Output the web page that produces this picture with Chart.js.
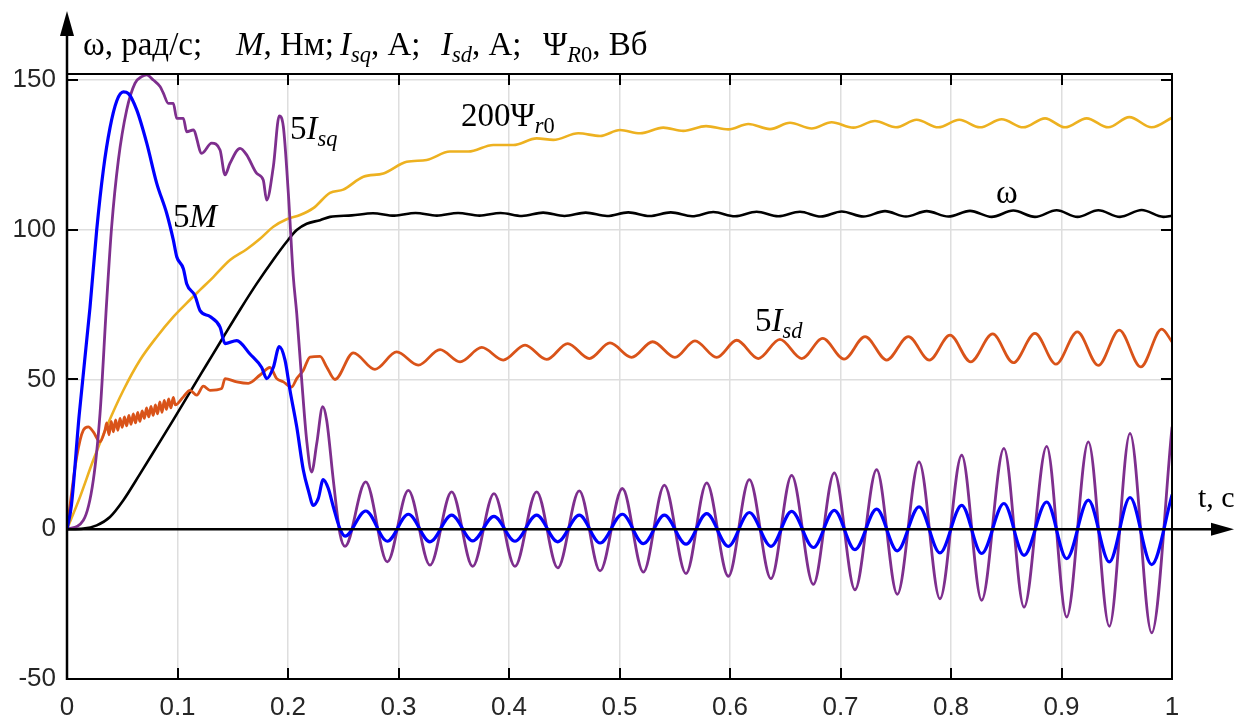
<!DOCTYPE html>
<html><head><meta charset="utf-8">
<script src="https://cdn.jsdelivr.net/npm/chart.js@4"></script>
<style>html,body{margin:0;padding:0;background:#fff;overflow:hidden}</style>
</head><body>
<canvas id="c" width="1244" height="722" style="width:1244px;height:722px"></canvas>
<script>
// ---- tick values ----
const xTicks = [0, 0.1, 0.2, 0.3, 0.4, 0.5, 0.6, 0.7, 0.8, 0.9, 1];
const yTicks = [-50, 0, 50, 100, 150];

// ---- 5M (blue) ----
const tM = [0,0.004,0.011,0.0208,0.0269,0.0329,0.0389,0.045,0.051,0.0555,0.0631,0.0721,0.0812,0.0902,0.0962,0.0993,0.1053,0.1083,0.1158,0.1204,0.1294,0.1385,0.143,0.1536,0.1656,0.1762,0.1807,0.1867,0.1921,0.1973,0.2018,0.2079,0.2139,0.2184,0.2229,0.2274,0.2319,0.2365,0.241,0.247,0.2516,
  0.2703,0.2899,0.3089,0.3285,0.3481,0.3671,0.3864,0.4054,0.4250,0.4441,0.4636,0.4824,0.5026,0.5216,0.5406,0.5602,0.5789,0.5985,0.6175,0.6371,0.6558,0.6754,0.6944,0.7131,0.7327,0.7514,0.7711,0.7900,0.8097,0.8277,0.8479,0.8661,0.8866,0.9047,0.9243,0.9433,0.9620,0.9816,1.0];
const vM = [0,8,38,74,100,120,134,143,146,145.5,140,129,115.5,105.5,96.6,91,87,82,78,73,71,67.5,62,63,58.5,54,50.3,54,61,56.5,46.4,34.2,19.7,13,8,10.3,16.6,13.6,7.5,0.2,-2.3,
  6.1,-4.0,5.0,-4.2,4.7,-3.9,4.3,-4.0,4.7,-4.2,4.7,-4.6,5.0,-4.8,4.7,-5.0,5.2,-5.7,5.6,-5.7,6.0,-6.1,6.3,-6.8,6.7,-7.2,7.5,-7.9,8.0,-8.1,8.6,-8.7,9.1,-9.8,9.7,-10.9,10.6,-11.8,11.4];

// ---- 5Isq (purple) ----
const tIsq = [0,0.0148,0.0238,0.0299,0.0359,0.0404,0.0465,0.054,0.0615,0.0676,0.0721,0.0781,0.0842,0.0872,0.0917,0.0962,0.0993,0.1053,0.1083,0.1143,0.1219,0.1309,0.1385,0.143,0.1475,0.1566,0.1626,0.1717,0.1776,0.1807,0.1867,0.1921,0.1958,0.2003,0.2048,0.2079,0.2124,0.2169,0.2214,0.226,0.2314,0.235,0.241,0.247,0.2516,
  0.2703,0.2899,0.3089,0.3285,0.3481,0.3671,0.3864,0.4054,0.4250,0.4441,0.4636,0.4824,0.5026,0.5216,0.5406,0.5602,0.5789,0.5985,0.6175,0.6371,0.6558,0.6754,0.6944,0.7131,0.7327,0.7514,0.7711,0.7900,0.8097,0.8277,0.8479,0.8661,0.8866,0.9047,0.9243,0.9433,0.9620,0.9816,1.0];
const vIsq = [0,3,16.4,38.7,76,101,123.3,140,148.9,151.1,151.7,150,147.8,145.6,142.2,142.2,137.2,137.2,132.7,133.3,125.5,128.9,126.6,118.3,122.2,127.2,125,118.8,116.6,109.9,121,138,134.4,112.2,84.3,72.1,49.8,29.7,19.1,28.6,40.9,36.4,16.4,-1.4,-5.7,
  15.8,-10.9,13.0,-12.0,12.5,-12.4,11.9,-12.4,12.5,-12.9,12.8,-13.9,13.6,-14.3,14.7,-14.8,15.5,-15.7,16.6,-16.5,18.0,-18.4,18.8,-20.2,19.9,-21.7,22.5,-23.2,24.7,-23.7,27.0,-26.0,27.7,-29.3,29.2,-32.4,32.0,-34.6,34];

// ---- 5Isd (orange) ----
const tIsd = [0,0.0088,0.0148,0.0193,0.0238,0.0299,0.0344,0.036,0.038,0.040,0.042,0.044,0.046,0.048,0.050,0.052,0.054,0.056,0.058,0.060,0.062,0.064,0.066,0.068,0.070,0.072,0.074,0.076,0.078,0.080,0.082,0.084,0.086,0.088,0.090,0.092,0.094,0.0962,0.098,0.1053,0.1113,0.1174,0.1234,0.1294,0.14,0.143,0.1536,0.1641,0.1747,0.1837,0.1898,0.1958,0.2033,0.2079,0.2139,0.2199,0.229,0.235,0.2425,
  0.2591,0.2787,0.2984,0.3179,0.3376,0.3557,0.3753,0.3948,0.4145,0.4341,0.4531,0.4727,0.4914,0.511,0.53,0.5502,0.5683,0.588,0.6061,0.6256,0.6452,0.6649,0.6839,0.7032,0.7222,0.7418,0.7614,0.7804,0.7991,0.8178,0.8377,0.8564,0.876,0.895,0.9143,0.9333,0.9523,0.9717,0.9907,1.0];
const vIsd = [0,24.2,33.1,34.2,32.5,29.2,33.1,35.5,31.5,36,32.5,36.5,33,37,34,37.5,34.5,38,35,38.5,35.5,39,36,39.5,37,40.5,37.5,41,38,41.5,38.5,42.5,39,43,40,43.5,40.5,44,41.5,44.2,46.4,44.8,47.8,46.4,47,50.3,49.2,48.7,51.5,54,50.3,49.2,47.5,50.3,53.1,57.5,57.7,54.2,50,
  58.9,53.4,59.2,54.8,60,55.9,60.7,56.5,61.5,56.7,62,57,62.2,57.4,62.6,57.4,62.9,57.4,63.1,57,63.4,57,63.7,56.8,64.3,56.5,64.3,56.5,64.8,55.9,65.2,55.6,65.4,55.1,65.9,54.7,66.5,54.2,66.8,62.6];

// ---- omega (black) ----
const tW = [0,0.0148,0.0269,0.0389,0.051,0.0661,0.0812,0.0962,0.1113,0.1264,0.1415,0.1566,0.1717,0.1867,0.1988,0.2079,0.2169,0.229,0.238,0.2577,
  0.2769,0.2962,0.3154,0.3347,0.3539,0.3732,0.3924,0.4117,0.4309,0.4502,0.4694,0.4887,0.5079,0.5272,0.5464,0.5657,0.5849,0.6045,0.6241,0.6437,0.6633,0.6822,0.7011,0.7207,0.7403,0.7592,0.778,0.7976,0.8172,0.8368,0.8564,0.876,0.8956,0.9145,0.9333,0.9529,0.9726,0.9921,1.0];
const vW = [0,0.2,1.3,4.1,9.7,18.5,27.5,36.5,45.8,55,64.2,73.3,82,90,96,99.9,102,103.2,104.3,104.8,
  105.5,104.7,105.6,104.7,105.6,104.7,105.6,104.6,105.7,104.6,105.7,104.6,105.8,104.6,105.8,104.5,105.9,104.5,106.0,104.5,106.0,104.4,106.1,104.4,106.2,104.4,106.2,104.4,106.3,104.3,106.4,104.3,106.5,104.3,106.5,104.3,106.6,104.3,104.7];

// ---- 200 Psi_r0 (yellow) ----
const tPsi = [0,0.0118,0.0238,0.0359,0.051,0.0661,0.0812,0.0962,0.1083,0.1204,0.1324,0.1475,0.1626,0.1747,0.1867,0.1988,0.2109,0.2229,0.238,0.25,
  0.2682,0.2863,0.3074,0.3255,0.3466,0.3632,0.3858,0.4039,0.4251,0.4401,0.4627,0.4824,0.5005,0.5186,0.5396,0.5577,0.5783,0.5985,0.6166,0.6362,0.6543,0.6739,0.692,0.7116,0.7312,0.7502,0.7689,0.7885,0.8075,0.8262,0.8459,0.8654,0.8851,0.9032,0.9228,0.9423,0.9614,0.9816,1.0];
const vPsi = [0,10.8,23.1,34.2,46.4,56.5,64.2,70.9,75.5,79.9,84.2,89.9,93.5,97,101,103.5,104.9,107.2,112.3,113.4,
  117.7,118.8,122.7,123.3,126.1,126.1,128.3,128.3,130.5,130,132.2,131.3,133.3,132.2,134.1,133,134.6,133.5,135.3,133.6,135.7,133.8,135.9,134.1,136.3,134.2,136.7,134.2,136.7,134.2,136.9,134.2,137.2,134.2,137.2,134.2,137.6,134.2,137.4];

const pts = (t, v) => t.map((x, i) => ({x: x, y: v[i]}));

const SERIF = '"Liberation Serif", "DejaVu Serif", serif';
const SANS = '"Liberation Sans", Arial, sans-serif';

function rich(ctx, x, y, segs, size) {
  let cx = x;
  for (const s of segs) {
    const sz = s.sub ? size * 0.68 : size;
    ctx.font = (s.it ? 'italic ' : '') + sz + 'px ' + SERIF;
    const yy = s.sub ? y + size * 0.22 : y;
    ctx.fillText(s.t, cx, yy);
    cx += ctx.measureText(s.t).width;
  }
  return cx;
}

const deco = {
  id: 'deco',
  afterDatasetsDraw(chart) {
    const ctx = chart.ctx, a = chart.chartArea, xs = chart.scales.x, ys = chart.scales.y;
    ctx.save();
    ctx.strokeStyle = '#000'; ctx.fillStyle = '#000';
    ctx.lineWidth = 2;
    ctx.lineCap = 'butt';
    // frame
    ctx.beginPath();
    ctx.moveTo(a.left, a.top); ctx.lineTo(a.right, a.top); ctx.lineTo(a.right, a.bottom); ctx.lineTo(a.left - 1, a.bottom);
    ctx.stroke();
    // ticks
    const tl = 11;
    ctx.beginPath();
    xTicks.forEach(v => {
      const px = Math.round(xs.getPixelForValue(v));
      ctx.moveTo(px, a.bottom); ctx.lineTo(px, a.bottom - tl);
      ctx.moveTo(px, a.top); ctx.lineTo(px, a.top + tl);
    });
    yTicks.forEach(v => {
      const py = Math.round(ys.getPixelForValue(v));
      ctx.moveTo(a.left, py); ctx.lineTo(a.left + tl, py);
      ctx.moveTo(a.right, py); ctx.lineTo(a.right - tl, py);
    });
    ctx.stroke();
    // y-axis arrow
    ctx.lineWidth = 2.5;
    ctx.beginPath();
    ctx.moveTo(a.left, a.bottom + 1); ctx.lineTo(a.left, 34);
    ctx.stroke();
    ctx.beginPath();
    ctx.moveTo(a.left, 11); ctx.lineTo(a.left - 7, 36); ctx.lineTo(a.left + 7, 36); ctx.closePath();
    ctx.fill();
    // x-axis arrow at y=0
    const y0 = ys.getPixelForValue(0);
    ctx.beginPath();
    ctx.moveTo(a.left, y0); ctx.lineTo(1214, y0);
    ctx.stroke();
    ctx.beginPath();
    ctx.moveTo(1234, y0); ctx.lineTo(1211, y0 - 6.5); ctx.lineTo(1211, y0 + 6.5); ctx.closePath();
    ctx.fill();

    // texts
    ctx.fillStyle = '#000';
    ctx.textBaseline = 'alphabetic';
    ctx.textAlign = 'left';
    const ts = 33, tb = 55;
    rich(ctx, 83, tb, [{t: 'ω, рад/с;'}], ts);
    rich(ctx, 236, tb, [{t: 'M', it: true}, {t: ', Нм;'}], ts);
    rich(ctx, 340, tb, [{t: 'I', it: true}, {t: 'sq', it: true, sub: true}, {t: ', А;'}], ts);
    rich(ctx, 441, tb, [{t: 'I', it: true}, {t: 'sd', it: true, sub: true}, {t: ', А;'}], ts);
    rich(ctx, 543, tb, [{t: 'Ψ'}, {t: 'R', it: true, sub: true}, {t: '0', sub: true}, {t: ', Вб'}], ts);
    rich(ctx, 173, 227, [{t: '5'}, {t: 'M', it: true}], 33);
    rich(ctx, 290, 139, [{t: '5'}, {t: 'I', it: true}, {t: 'sq', it: true, sub: true}], 33);
    rich(ctx, 461, 126, [{t: '200Ψ'}, {t: 'r', it: true, sub: true}, {t: '0', sub: true}], 33);
    rich(ctx, 996, 203, [{t: 'ω'}], 33);
    rich(ctx, 755, 331, [{t: '5'}, {t: 'I', it: true}, {t: 'sd', it: true, sub: true}], 33);
    rich(ctx, 1198, 507, [{t: 't, c'}], 30);
    ctx.restore();
  }
};

const common = {pointRadius: 0, fill: false, cubicInterpolationMode: 'monotone', borderJoinStyle: 'round', borderCapStyle: 'round'};

new Chart(document.getElementById('c'), {
  type: 'line',
  data: {
    datasets: [
      Object.assign({label: '5M', data: pts(tM, vM), borderColor: '#0000ff', borderWidth: 3.2}, common),
      Object.assign({label: '5Isq', data: pts(tIsq, vIsq), borderColor: '#7e2f8e', borderWidth: 2.8}, common),
      Object.assign({label: '5Isd', data: pts(tIsd, vIsd), borderColor: '#d95319', borderWidth: 2.8}, common),
      Object.assign({label: 'ω', data: pts(tW, vW), borderColor: '#000000', borderWidth: 2.6}, common),
      Object.assign({label: '200Ψr0', data: pts(tPsi, vPsi), borderColor: '#edb120', borderWidth: 2.6}, common)
    ]
  },
  options: {
    responsive: false, animation: false, devicePixelRatio: 1,
    layout: {padding: {top: 74, right: 72, left: 0, bottom: 0}},
    plugins: {legend: {display: false}, tooltip: {enabled: false}},
    scales: {
      x: {
        type: 'linear', min: 0, max: 1,
        afterFit(s) { s.height = 43; },
        afterBuildTicks(s) { s.ticks = xTicks.map(v => ({value: v})); },
        ticks: {font: {family: SANS, size: 26}, color: '#262626', padding: 13, maxRotation: 0, autoSkip: false, callback: v => String(v)},
        grid: {color: '#dedede', lineWidth: 1.5, drawTicks: false},
        border: {display: false}
      },
      y: {
        type: 'linear', min: -50, max: 152,
        afterFit(s) { s.width = 67; },
        afterBuildTicks(s) { s.ticks = yTicks.map(v => ({value: v})); },
        ticks: {font: {family: SANS, size: 26}, color: '#262626', padding: 11, callback: v => String(v)},
        grid: {color: '#dedede', lineWidth: 1.5, drawTicks: false},
        border: {display: false}
      }
    }
  },
  plugins: [deco]
});
</script>
</body></html>
